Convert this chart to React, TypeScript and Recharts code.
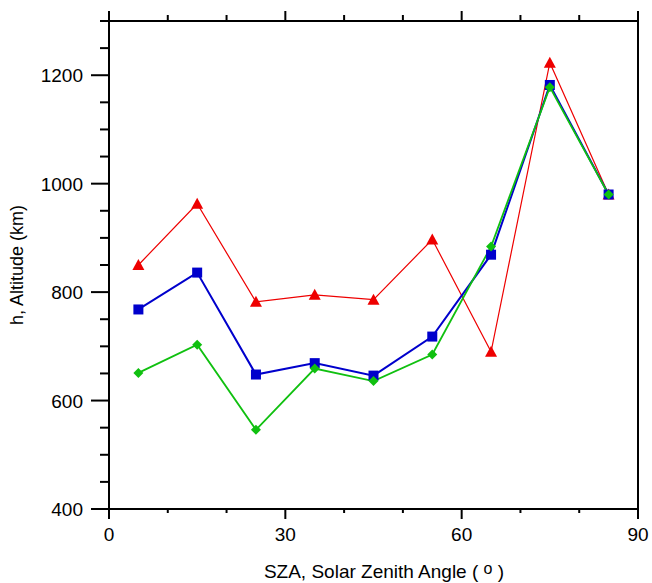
import { LineChart, Line, XAxis, YAxis } from "recharts";

const FONT = '"Liberation Sans", Arial, sans-serif';

// solar zenith angle bins (deg)
const sza = [5, 15, 25, 35, 45, 55, 65, 75, 85];
// altitudes (km)
const redAlt = [850, 963, 782, 795, 786, 897, 690, 1223, 980];
const blueAlt = [768, 836, 648, 669, 646, 718, 869, 1182, 980];
const greenAlt = [651, 703, 546, 659, 636, 685, 884, 1178, 980];

const xMajorTicks = [0, 30, 60, 90];
const xMinorTicks = [0, 10, 20, 30, 40, 50, 60, 70, 80, 90];
const yMajorTicks = [400, 600, 800, 1000, 1200];
const yMinorTicks = [400, 450, 500, 550, 600, 650, 700, 750, 800, 850, 900, 950, 1000, 1050, 1100, 1150, 1200, 1250, 1300];

const data = sza.map((x, i) => ({
  x,
  red: redAlt[i],
  blue: blueAlt[i],
  green: greenAlt[i],
}));

const RED = "#ee0000";
const BLUE = "#0000cc";
const GREEN = "#10c010";

if (typeof document !== "undefined") {
  document.body.style.margin = "0";
  document.body.style.overflow = "hidden";
}

// plot frame in page pixels
const W = 652;
const H = 583;
const PLOT = { left: 109, top: 21, right: 638, bottom: 509 };

const Triangle = (p: any) => {
  const { cx, cy, index } = p;
  if (cx == null || cy == null) return <g key={index} />;
  return (
    <polygon
      key={index}
      points={`${cx - 6},${cy + 5} ${cx + 6},${cy + 5} ${cx},${cy - 6}`}
      fill={RED}
    />
  );
};

const Square = (p: any) => {
  const { cx, cy, index } = p;
  if (cx == null || cy == null) return <g key={index} />;
  return <rect key={index} x={cx - 5} y={cy - 5} width={10} height={10} fill={BLUE} />;
};

const Diamond = (p: any) => {
  const { cx, cy, index } = p;
  if (cx == null || cy == null) return <g key={index} />;
  return (
    <polygon
      key={index}
      points={`${cx},${cy - 5} ${cx + 5},${cy} ${cx},${cy + 5} ${cx - 5},${cy}`}
      fill={GREEN}
    />
  );
};

// ticks are drawn by hand so major/minor lengths can differ
const tickLineStyle = { stroke: "#000", strokeWidth: 2 };
const labelStyle = { fontSize: 19, fill: "#000", fontFamily: FONT };

const BottomTick = (p: any) => {
  const cx = p.payload.coordinate;
  const major = xMajorTicks.includes(p.payload.value);
  return (
    <g>
      <line x1={cx} x2={cx} y1={PLOT.bottom} y2={PLOT.bottom + (major ? 10 : 4)} {...tickLineStyle} />
      {major && (
        <text x={cx} y={PLOT.bottom + 32} textAnchor="middle" style={labelStyle}>
          {p.payload.value}
        </text>
      )}
    </g>
  );
};

const TopTick = (p: any) => {
  const cx = p.payload.coordinate;
  const major = xMajorTicks.includes(p.payload.value);
  return (
    <line x1={cx} x2={cx} y1={PLOT.top} y2={PLOT.top - (major ? 10 : 6)} {...tickLineStyle} />
  );
};

const LeftTick = (p: any) => {
  const cy = p.payload.coordinate;
  const major = yMajorTicks.includes(p.payload.value);
  return (
    <g>
      <line x1={PLOT.left} x2={PLOT.left - (major ? 18 : 9)} y1={cy} y2={cy} {...tickLineStyle} />
      {major && (
        <text x={83} y={cy + 7} textAnchor="end" style={labelStyle}>
          {p.payload.value}
        </text>
      )}
    </g>
  );
};

const RightTick = (p: any) => {
  const cy = p.payload.coordinate;
  const major = yMajorTicks.includes(p.payload.value);
  return (
    <line x1={PLOT.right} x2={PLOT.right + (major ? 16 : 9)} y1={cy} y2={cy} {...tickLineStyle} />
  );
};

export default function App() {
  return (
    <div style={{ position: "relative", width: W, height: H }}>
      <LineChart
        width={W}
        height={H}
        data={data}
        margin={{ top: PLOT.top - 1, right: W - PLOT.right - 1, bottom: H - PLOT.bottom - 1, left: PLOT.left - 1 }}
        style={{ overflow: "visible" }}
      >
        <XAxis xAxisId="x" dataKey="x" type="number" domain={[0, 90]} ticks={xMinorTicks}
          interval={0} height={1} tick={BottomTick} tickLine={false} axisLine={tickLineStyle} />
        <XAxis xAxisId="top" orientation="top" dataKey="x" type="number" domain={[0, 90]}
          ticks={xMinorTicks} interval={0} height={1} tick={TopTick} tickLine={false}
          axisLine={tickLineStyle} />
        <YAxis yAxisId="y" type="number" domain={[400, 1300]} ticks={yMinorTicks}
          interval={0} width={1} tick={LeftTick} tickLine={false} axisLine={tickLineStyle} />
        <YAxis yAxisId="right" orientation="right" type="number" domain={[400, 1300]}
          ticks={yMinorTicks} interval={0} width={1} tick={RightTick} tickLine={false}
          axisLine={tickLineStyle} />

        <Line xAxisId="x" yAxisId="y" type="linear" dataKey="red" stroke={RED} strokeWidth={1.2}
          dot={Triangle} activeDot={false} isAnimationActive={false} />
        <Line xAxisId="x" yAxisId="y" type="linear" dataKey="blue" stroke={BLUE} strokeWidth={2}
          dot={Square} activeDot={false} isAnimationActive={false} />
        <Line xAxisId="x" yAxisId="y" type="linear" dataKey="green" stroke={GREEN} strokeWidth={1.8}
          dot={Diamond} activeDot={false} isAnimationActive={false} />
      </LineChart>

      <svg
        width={W}
        height={H}
        style={{ position: "absolute", left: 0, top: 0, pointerEvents: "none" }}
      >
        <text x={384} y={578} textAnchor="middle" style={labelStyle}>
          SZA, Solar Zenith Angle ({" "}
          <tspan dy={-4} fontSize={16}>o</tspan>
          <tspan dy={4}> )</tspan>
        </text>
        <text
          x={23}
          y={265}
          textAnchor="middle"
          transform="rotate(-90 23 265)"
          style={{ ...labelStyle, fontSize: 18 }}
        >
          h, Altitude (km)
        </text>
      </svg>
    </div>
  );
}
